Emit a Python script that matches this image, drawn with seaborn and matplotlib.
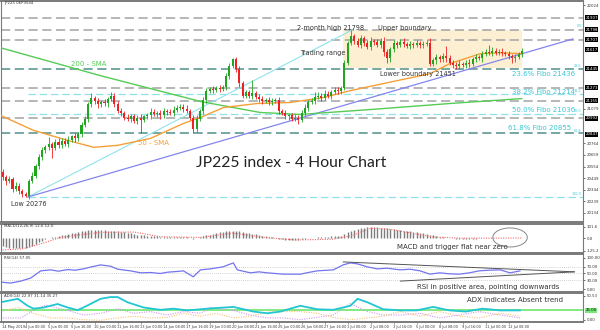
import numpy as np
import pandas as pd
import matplotlib
matplotlib.use("Agg")
import matplotlib.pyplot as plt
from matplotlib.patches import Rectangle, Ellipse
import seaborn as sns

# ---------------- data ----------------
closes = [20460, 20420, 20440, 20350, 20380, 20330, 20300, 20290, 20420, 20470,
          20560, 20640, 20700, 20730, 20760, 20720, 20780, 20750, 20790, 20760,
          20800, 20830, 20810, 20850, 20930, 20990, 21120, 21180, 21150, 21120,
          21140, 21130, 21170, 21200, 21120, 21060, 21040, 21000, 20990, 21010,
          20970, 21000, 20980, 21010, 21020, 21050, 21030, 21040, 21020, 21060,
          21050, 21040, 21070, 21090, 21100, 21080, 21060, 21000, 20900, 20990,
          21060, 21160, 21240, 21260, 21250, 21270, 21260, 21280, 21380, 21470,
          21530, 21440, 21310, 21200, 21230, 21200, 21220, 21190, 21170, 21150,
          21160, 21140, 21150, 21160, 21060, 21040, 21010, 21020, 20990, 21000,
          20980, 21040, 21090, 21140, 21150, 21190, 21200, 21180, 21210, 21200,
          21230, 21250, 21240, 21270, 21500, 21680, 21740, 21700, 21660, 21720,
          21680, 21640, 21700, 21690, 21660, 21700, 21600, 21540, 21620, 21680,
          21660, 21690, 21670, 21650, 21670, 21660, 21680, 21660, 21670, 21680,
          21490, 21520, 21550, 21530, 21560, 21540, 21500, 21480, 21470, 21490,
          21480, 21500, 21490, 21530, 21550, 21540, 21580, 21600, 21590, 21610,
          21590, 21600, 21590, 21580, 21560, 21540, 21550, 21580, 21610]
first_open = 20500
up_wick = [30, 20, 25, 15, 30, 20, 15, 20, 25, 30,
           20, 25, 30, 20, 60, 20, 25, 35, 20, 25,
           30, 15, 25, 20, 30, 20, 25, 40, 20, 30,
           20, 25, 15, 30, 20, 30, 25, 20, 35, 20,
           25, 20, 30, 15, 25, 40, 30, 20, 25, 30,
           20, 25, 35, 20, 25, 20, 30, 15, 25, 30,
           20, 25, 30, 20, 25, 15, 30, 20, 25, 30,
           15, 25, 30, 20, 25, 20, 120, 20, 25, 30,
           20, 25, 30, 20, 25, 20, 30, 15, 25, 30,
           20, 25, 30, 20, 25, 40, 30, 20, 45, 30,
           20, 25, 30, 20, 25, 20, 60, 20, 25, 30,
           20, 25, 30, 15, 25, 20, 30, 20, 25, 30,
           20, 25, 30, 20, 25, 20, 30, 20, 25, 30,
           40, 25, 30, 20, 25, 90, 30, 20, 25, 30,
           20, 25, 30, 20, 25, 20, 30, 20, 60, 30,
           20, 25, 30, 20, 25, 20, 30, 20, 20]
dn_wick = [25, 30, 20, 30, 20, 25, 20, 14, 30, 20,
           20, 30, 25, 20, 30, 90, 20, 25, 30, 20,
           25, 20, 30, 20, 25, 20, 30, 20, 25, 30,
           20, 25, 30, 20, 25, 20, 30, 20, 25, 30,
           20, 25, 120, 20, 25, 30, 20, 25, 30, 20,
           25, 20, 30, 20, 25, 30, 20, 25, 40, 30,
           20, 25, 30, 20, 25, 20, 30, 20, 25, 30,
           20, 25, 30, 20, 25, 20, 30, 20, 25, 30,
           20, 25, 30, 20, 30, 20, 25, 30, 20, 25,
           40, 20, 25, 30, 20, 25, 20, 30, 20, 25,
           30, 20, 25, 30, 20, 25, 20, 30, 20, 25,
           30, 20, 25, 30, 20, 25, 40, 40, 30, 20,
           25, 20, 30, 20, 25, 30, 20, 25, 30, 20,
           25, 20, 30, 20, 25, 30, 20, 25, 30, 29,
           20, 25, 30, 20, 25, 20, 30, 20, 25, 30,
           20, 25, 30, 20, 25, 40, 30, 20, 25]

sma200_x = [-0.6, 29.8, 60.2, 78.4, 90.6, 111.9, 136.2, 158]
sma200_y = [21635, 21381, 21146, 21046, 21028, 21073, 21128, 21173]
sma50_x = [-0.6, 9.4, 19.8, 27.7, 35, 45, 55, 60.2, 67.2, 77.5, 87.5, 97.6,
           105.8, 115.8, 130, 136, 145.3, 151.4, 158]
sma50_y = [21019, 20883, 20792, 20729, 20747, 20810, 20946, 21001, 21091, 21128,
           21137, 21182, 21245, 21309, 21399, 21490, 21581, 21590, 21581]

grey_levels = [21907, 21798, 21707, 21273, 21155, 20992]
teal_levels = [21445, 20855]
fibo_levels = [21214, 21036, 20276]
low_value, high_value = 20276, 21798
low_bar, high_bar = 7.6, 106.4
range_lo, range_hi = 21451, 21798
range_start, range_end = 103.6, 158
trend_end_bar, trend_end_val = 173.6, 21716
box_labels = [21907, 21798, 21707, 21617, 21445, 21273, 21155, 20992, 20847]

macd_main = [-70, -80, -88, -92, -94, -92, -90, -88, -80, -70,
             -55, -40, -25, -12, -3, 5, 12, 18, 25, 32,
             38, 45, 50, 55, 60, 65, 70, 74, 75, 74,
             72, 70, 68, 66, 64, 60, 56, 52, 48, 42,
             36, 32, 28, 25, 22, 19, 16, 14, 12, 10,
             9, 8, 8, 9, 10, 9, 6, 2, -5, -2,
             6, 15, 24, 32, 40, 46, 52, 56, 60, 64,
             66, 64, 60, 55, 50, 45, 40, 35, 28, 22,
             16, 10, 5, 0, -6, -10, -14, -16, -18, -18,
             -16, -12, -8, -4, 0, 3, 6, 8, 10, 12,
             14, 16, 18, 22, 35, 52, 66, 76, 84, 90,
             95, 98, 100, 100, 98, 96, 92, 88, 84, 80,
             76, 72, 68, 64, 60, 56, 52, 48, 44, 40,
             32, 24, 18, 12, 8, 4, 0, -4, -8, -10,
             -12, -12, -10, -8, -6, -4, -2, 0, 2, 3,
             4, 4, 3, 2, 0, -2, -3, -2, 0]
signal_x = [0, 6, 12, 17, 22, 30, 40, 48, 60, 70, 80, 89, 100, 106, 112, 118, 131, 140, 158]
signal_y = [-110, -100, -50, 0, 25, 52, 55, 12, 5, 45, 5, -18, -12, 20, 90, 80, 10, -2, 0]

rsi_x = [-0.6, 2.4, 5.5, 8.5, 11.6, 14.6, 17, 19.8, 22, 24.6, 27, 29.8, 32.8, 35, 38.9,
         42, 45, 48, 50.2, 53, 55, 58, 60.2, 63.2, 67, 70.2, 71.4, 75.4, 78, 80.5,
         83, 85.4, 90.6, 93, 95.7, 100.6, 103.6, 105.8, 108, 111, 114, 117, 121, 124,
         127, 130, 133, 136, 139, 142, 145, 148, 151.4, 154.4, 157.5]
rsi_y = [24, 21, 27, 36, 58, 61, 57, 62, 60, 64, 70, 76, 72, 63, 58,
         52, 53, 50, 54, 56, 58, 40, 61, 64, 70, 82, 61, 52, 55, 52,
         50, 48, 48, 53, 58, 61, 76, 82, 79, 70, 64, 66, 61, 63,
         58, 48, 52, 49, 48, 52, 58, 60, 61, 52, 58]
rsi_up_line = ([103.6, 174.0], [85, 55])
rsi_lo_line = ([121.0, 174.0], [27, 55])

adx_x = [-0.6, 4.6, 7.6, 9.4, 12.5, 16.7, 19.8, 22.8, 24.6, 29.8, 32.8, 35, 38, 42.9,
         48, 52, 56.2, 62.3, 70.2, 76.3, 80.5, 84.5, 90.6, 95.7, 100.6, 105.8, 108,
         111, 115.8, 121, 126, 131, 136, 141, 146, 151.4, 157.5]
adx_y = [39, 45, 33, 28, 30, 36, 30, 25.5, 30, 45, 48, 48, 39, 30,
         26, 28, 25, 28, 31, 23, 20, 23, 33, 27, 26, 33, 45,
         39, 27, 25, 25, 31, 25, 23, 28, 25, 25]
pdi_x = [-0.6, 5.5, 9.4, 13, 19.8, 24.6, 29.8, 35, 39.8, 45, 50, 55, 60.2, 63.2, 70.2,
         75.4, 80.5, 85.4, 90.6, 100.6, 105.8, 111, 115.8, 121, 127, 133, 139, 145,
         151.4, 157.5]
pdi_y = [12, 12, 25, 34, 25, 17, 20, 28, 20, 23, 17, 23, 20, 30, 25,
         17, 12, 12, 9, 17, 37, 23, 17, 17, 20, 12, 17, 23, 17, 12]
mdi_x = [-0.6, 4.6, 9.4, 14.6, 19.8, 24.6, 29.8, 35, 39.8, 45, 50.2, 55, 60.2, 65, 70.2,
         75.4, 80.5, 85.4, 90.6, 95.7, 100.6, 105.8, 111, 115.8, 121, 127, 133, 139,
         145, 151.4, 157.5]
mdi_y = [23, 30, 20, 12, 12, 9, 8, 12, 15, 12, 13, 20, 15, 20, 12,
         15, 22, 23, 23, 20, 13, 9, 12, 15, 23, 15, 23, 15, 12, 20, 15]
adx_level = 25

x_labels = ["14 May 2019", "4 Jun 00:00", "5 Jun 00:00", "5 Jun 16:00", "10 Jun 00:00",
            "11 Jun 16:00", "13 Jun 00:00", "14 Jun 08:00", "17 Jun 16:00", "19 Jun 00:00",
            "20 Jun 08:00", "21 Jun 16:00", "25 Jun 00:00", "26 Jun 08:00", "27 Jun 16:00",
            "1 Jul 00:00", "2 Jul 08:00", "3 Jul 16:00", "5 Jul 00:00", "8 Jul 08:00",
            "9 Jul 16:00", "11 Jul 00:00", "12 Jul 08:00"]
label_step = 7

# ---------------- style ----------------
sns.set_style("white")
plt.rcParams["font.family"] = ["DejaVu Sans"]

W, H = 600, 330
fig = plt.figure(figsize=(6, 3.3), dpi=100)
fig.patch.set_facecolor("white")


def px_axes(top, bottom, left=1, right=583):
    return fig.add_axes([left / W, 1 - bottom / H, (right - left) / W, (bottom - top) / H])


XL = (-0.5, 176.6)
ax = px_axes(1, 222)
ax_m = px_axes(224, 253)
ax_r = px_axes(254, 292)
ax_a = px_axes(293, 322)

for a in (ax, ax_m, ax_r, ax_a):
    a.set_xlim(*XL)
    a.set_facecolor("white")
    for s in a.spines.values():
        s.set_color("#7a7a7a")
        s.set_linewidth(0.8)
    a.spines["top"].set_linewidth(1.4)
    a.spines["bottom"].set_linewidth(1.4)
    a.yaxis.tick_right()
    a.tick_params(axis="y", labelsize=2.8, length=1.5, pad=1, colors="#333333", width=0.5)
    a.tick_params(axis="x", bottom=False, labelbottom=False)
    a.grid(False)

# ---------------- main price panel ----------------
n = len(closes)
idx = np.arange(n)
c = np.array(closes, float)
o = np.concatenate([[first_open], c[:-1]])
hi = np.maximum(o, c) + np.array(up_wick)
lo = np.minimum(o, c) - np.array(dn_wick)
df = pd.DataFrame({"i": idx, "open": o, "close": c, "high": hi, "low": lo})
df["up"] = df["close"] >= df["open"]

ax.set_ylim(20049, 22061)

ax.add_patch(Rectangle((range_start, range_lo), range_end - range_start, range_hi - range_lo,
                       facecolor="#fcefd2", edgecolor="none", zorder=0))

for lv in grey_levels:
    ax.axhline(lv, color="#a3a3a3", lw=1.1, ls=(0, (6, 3)), zorder=1)
for lv in teal_levels:
    ax.axhline(lv, color="#4f8f8a", lw=1.1, ls=(0, (6, 3)), zorder=1)
for lv in fibo_levels:
    ax.hlines(lv, low_bar, XL[1], color="#8fe0e8", lw=0.9, ls=(0, (6, 3)), zorder=1)

sns.lineplot(x=[low_bar, high_bar], y=[low_value, high_value], ax=ax, color="#8fe3ec", lw=0.8, zorder=2)
sns.lineplot(x=[low_bar, trend_end_bar], y=[low_value, trend_end_val], ax=ax, color="#8585ee", lw=0.9, zorder=2)

sns.lineplot(x=sma200_x, y=sma200_y, ax=ax, color="#55cc55", lw=1.0, zorder=3)
sns.lineplot(x=sma50_x, y=sma50_y, ax=ax, color="#f5a036", lw=1.0, zorder=3)

colors = np.where(df["up"], "#1fa51f", "#ee2222")
ax.vlines(df["i"], df["low"], df["high"], colors=colors, lw=0.6, zorder=4)
body_lo = np.minimum(df["open"], df["close"])
body_h = np.maximum(np.abs(df["close"] - df["open"]), 6)
ax.bar(df["i"], body_h, bottom=body_lo, width=0.62, color=colors, linewidth=0, zorder=5)

tc = "#333333"
ax.text(0.5, 22040, "JP225 0EP3544", fontsize=2.8, color=tc, va="center")
ax.text(89.7, 21818, "2-month high 21798", fontsize=4.7, color=tc, va="center")
ax.text(114.3, 21818, "Upper boundary", fontsize=4.7, color=tc, va="center")
ax.text(90.6, 21590, "Trading range", fontsize=4.7, color=tc, va="center")
ax.text(114.9, 21400, "Lower boundary 21451", fontsize=4.7, color=tc, va="center")
ax.text(2.4, 20213, "Low 20276", fontsize=4.7, color=tc, va="center")
fibo_col = "#3cc6d6"
ax.text(155, 21400, "23.6% Fibo 21436", fontsize=5, color=fibo_col, va="center")
ax.text(155, 21236, "38.2% Fibo 21214", fontsize=5, color=fibo_col, va="center")
ax.text(155, 21073, "50.0% Fibo 21036", fontsize=5, color=fibo_col, va="center")
ax.text(153.8, 20901, "61.8% Fibo 20855", fontsize=5, color=fibo_col, va="center")
for lab, val in [("0.0", 21830), ("23.6", 21470), ("38.2", 21240), ("50.0", 21060),
                 ("61.8", 20880), ("100.0", 20305)]:
    ax.text(176.2, val, lab, fontsize=2.4, color=fibo_col, ha="right", va="center")
ax.text(20.7, 21490, "200 - SMA", fontsize=5, color="#55cc55", va="center")
ax.text(41.3, 20765, "50 - SMA", fontsize=5, color="#f5a036", va="center")
ax.text(87.8, 20584, "JP225 index - 4 Hour Chart", fontsize=11.3, color="#222222",
        ha="center", va="center", family=["Lato", "DejaVu Sans"])

yt_all = [20134 + 105 * k for k in range(19)]
yt = [v for v in yt_all if min(abs(v - b) for b in box_labels) > 70]
ax.set_yticks(yt)
ax.set_yticklabels([str(v) for v in yt])
for v in box_labels:
    ax.text(1.004, v, str(v), transform=ax.get_yaxis_transform(), fontsize=2.8, color="white",
            va="center", ha="left", zorder=10,
            bbox=dict(boxstyle="square,pad=0.15", fc="black", ec="none"))

# ---------------- MACD ----------------
ax_m.set_ylim(-138, 129)
ax_m.vlines(idx, 0, macd_main, colors="#7c7c7c", lw=1.0)
sns.lineplot(x=signal_x, y=signal_y, ax=ax_m, color="#f06a6a", lw=0.8, ls=(0, (1, 1.2)))
ax_m.text(0.5, 108, "MACD(12,26,9) 12.6 12.0", fontsize=2.8, color=tc, va="center")
ax_m.text(120, -83, "MACD and trigger flat near zero", fontsize=5, color=tc, va="center")
ax_m.add_patch(Ellipse((154.4, 5), 10.5, 175, facecolor="none", edgecolor="#888888", lw=0.7))
ax_m.set_yticks([101.6, 0, -118])
ax_m.set_yticklabels(["101.6", "0.0", "-125.2"])

# ---------------- RSI ----------------
ax_r.set_ylim(-6, 109)
for lv in (70, 50, 30):
    ax_r.axhline(lv, color="#c4c4c4", lw=0.6, ls=(0, (1, 1.5)))
sns.lineplot(x=rsi_x, y=rsi_y, ax=ax_r, color="#7474f0", lw=0.9)
sns.lineplot(x=rsi_up_line[0], y=rsi_up_line[1], ax=ax_r, color="#555555", lw=0.7)
sns.lineplot(x=rsi_lo_line[0], y=rsi_lo_line[1], ax=ax_r, color="#555555", lw=0.7)
ax_r.text(0.5, 98, "RSI(14) 57.05", fontsize=2.8, color=tc, va="center")
ax_r.text(126, 9, "RSI in positive area, pointing downwards", fontsize=5, color=tc, va="center")
ax_r.set_yticks([97, 70, 50, 30, 3])
ax_r.set_yticklabels(["100.00", "70.00", "50.00", "30.00", "0.00"])

# ---------------- ADX ----------------
ax_a.set_ylim(5, 55)
ax_a.axhline(adx_level, color="#78e878", lw=1.3)
sns.lineplot(x=pdi_x, y=pdi_y, ax=ax_a, color="#d497ea", lw=0.8, ls=(0, (1, 1.2)))
sns.lineplot(x=mdi_x, y=mdi_y, ax=ax_a, color="#f5c27e", lw=0.8, ls=(0, (1, 1.2)))
sns.lineplot(x=adx_x, y=adx_y, ax=ax_a, color="#22c6d2", lw=1.3)
ax_a.text(0.5, 50, "ADX(14) 22.97 31.14 35.27", fontsize=2.8, color=tc, va="center")
ax_a.text(141.3, 43, "ADX indicates Absent trend", fontsize=5, color=tc, va="center")
ax_a.set_yticks([50.53, 9])
ax_a.set_yticklabels(["50.53", "0.00"])
ax_a.text(1.004, adx_level, "25.00", transform=ax_a.get_yaxis_transform(), fontsize=2.8,
          color="black", va="center", ha="left",
          bbox=dict(boxstyle="square,pad=0.15", fc="#78e878", ec="none"))

for k, lab in enumerate(x_labels):
    xb = k * label_step
    ax_a.text(xb - 0.3, -0.12, lab, transform=ax_a.get_xaxis_transform(), fontsize=2.5,
              color=tc, ha="left", va="top")
    ax_a.plot([xb, xb], [0, -0.06], transform=ax_a.get_xaxis_transform(), color="#555555",
              lw=0.4, clip_on=False)

for a in (ax, ax_m, ax_r, ax_a):
    a.set_xlabel("")
    a.set_ylabel("")
    a.set_xlim(*XL)
    leg = a.get_legend()
    if leg:
        leg.remove()

fig.savefig("out.png", dpi=100, facecolor="white")
